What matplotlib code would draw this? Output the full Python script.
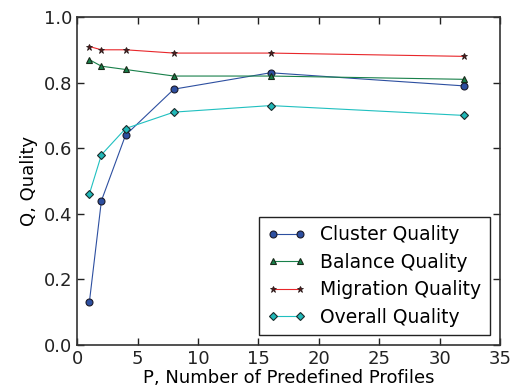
import numpy as np
import matplotlib
matplotlib.use("Agg")
import matplotlib.pyplot as plt

profiles = [1, 2, 4, 8, 16, 32]
cluster = [0.13, 0.44, 0.64, 0.78, 0.83, 0.79]
balance = [0.87, 0.85, 0.84, 0.82, 0.82, 0.81]
migration = [0.91, 0.90, 0.90, 0.89, 0.89, 0.88]
overall = [0.46, 0.58, 0.66, 0.71, 0.73, 0.70]

plt.rcParams["font.size"] = 13
fig = plt.figure(figsize=(5.15, 3.86), dpi=100)
ax = fig.add_axes([0.15, 0.106, 0.821, 0.850])

ax.plot(profiles, cluster, "-o", color="#2d4fa0", lw=0.8, ms=5,
        mfc="#2d4fa0", mec="#1a1a2a", mew=0.8, label="Cluster Quality")
ax.plot(profiles, balance, "-^", color="#18804a", lw=0.8, ms=5,
        mfc="#18804a", mec="#1a2a1a", mew=0.8, label="Balance Quality")
ax.plot(profiles, migration, "-*", color="#e8262a", lw=0.8, ms=5,
        mfc="#5a1a1a", mec="#2a1a1a", mew=0.6, label="Migration Quality")
ax.plot(profiles, overall, "-D", color="#20c0c0", lw=0.8, ms=4.5,
        mfc="#20b8b8", mec="#1a2a2a", mew=0.8, label="Overall Quality")

ax.set_xlim(0, 35)
ax.set_ylim(0, 1.0)
ax.set_xticks(np.arange(0, 36, 5))
ax.set_yticks(np.arange(0, 1.01, 0.2))
ax.tick_params(direction="in", top=True, right=True, length=5, width=1, colors="#222222")
for s in ax.spines.values():
    s.set_linewidth(1.2)
    s.set_color("#333333")
ax.set_xlabel("P, Number of Predefined Profiles", labelpad=1)
ax.set_ylabel("Q, Quality")

leg = ax.legend(loc="lower right", fancybox=False, framealpha=1, edgecolor="#222222",
                numpoints=2, fontsize=13.5, handlelength=2.0, borderpad=0.45,
                labelspacing=0.45, borderaxespad=0, bbox_to_anchor=(0.976, 0.03))
leg.get_frame().set_linewidth(1)

fig.savefig("out.png", dpi=100)
